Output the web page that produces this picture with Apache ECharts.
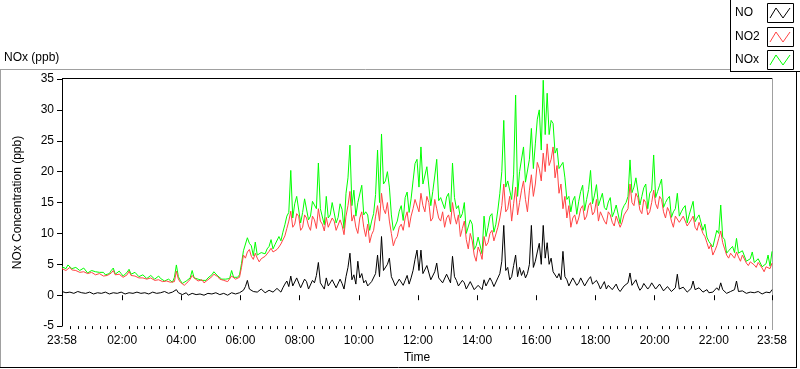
<!DOCTYPE html>
<html><head><meta charset="utf-8">
<script src="https://cdn.jsdelivr.net/npm/echarts@6/dist/echarts.min.js"></script>
<style>html,body{margin:0;padding:0;background:#fff}#c{width:800px;height:369px}</style>
</head><body><div id="c"></div>
<script>
// ---- data (sampled every 4 minutes, starting 23:58) ----
const sampleStepMin = 4;
const seriesNames = ['NO', 'NO2', 'NOx'];
const xTickMinutes = [0, 122, 242, 362, 482, 602, 722, 842, 962, 1082, 1202, 1322, 1440];
const xTickLabels = ['23:58','02:00','04:00','06:00','08:00','10:00','12:00','14:00','16:00','18:00','20:00','22:00','23:58'];
const yMin = -5, yMax = 35, yStep = 5;

const noValues = [
0.6,0.3,0.4,0.7,0.5,0.2,0.3,0.5,0.6,0.3,0.4,0.6,0.3,0.1,0.5,0.3,0.2,0.5,0.4,0.2,
0.3,0.6,0.5,0.2,0.2,0.4,0.4,0.1,0.3,0.5,0.5,0.2,0.2,0.4,0.4,0.2,0.3,0.6,0.5,0.2,
0.3,0.5,0.4,0.1,0.2,0.4,0.5,0.2,0.3,0.6,0.4,0.2,0.6,0.3,0.3,0.5,0.5,0.7,0.9,0.4,
0.4,0.1,0.2,0.4,0.0,0.2,0.3,0.0,0.1,0.3,0.2,-0.1,0.0,0.2,0.3,0.1,0.2,0.4,0.4,0.1,
0.1,0.3,0.3,0.0,0.0,0.2,0.4,0.1,0.2,0.5,0.4,0.6,0.8,1.4,2.4,1.0,1.2,0.6,0.9,0.5,
0.6,1.0,0.8,0.4,0.5,0.8,0.9,0.5,0.7,1.1,0.8,0.5,1.2,1.8,2.3,1.4,3.1,1.5,1.8,2.8,
3.0,1.2,1.5,2.6,2.2,1.0,1.2,2.4,2.0,3.2,5.3,2.0,2.1,1.0,2.8,1.5,1.6,2.5,2.2,1.2,
1.5,2.6,1.9,1.0,3.0,4.5,6.8,2.5,3.3,1.8,5.5,2.8,3.5,2.0,2.4,1.5,1.4,2.2,2.1,3.5,
6.5,3.0,9.5,4.0,4.2,5.0,6.0,3.0,2.3,1.5,1.6,2.6,2.5,1.6,2.4,3.2,1.8,2.8,4.0,5.8,
7.3,4.0,7.3,3.5,3.5,4.8,4.5,2.5,2.6,3.8,5.2,2.8,3.0,2.0,2.2,3.4,3.1,2.0,6.3,3.0,
2.4,1.5,1.6,2.4,2.0,1.0,1.2,2.2,2.0,0.9,0.8,1.6,1.5,0.9,2.5,1.5,1.8,2.8,2.2,1.4,
1.6,2.8,3.5,5.5,11.3,4.0,4.5,2.5,3.0,4.8,6.5,3.0,4.5,3.2,4.0,2.8,3.5,5.0,11.3,4.5,
5.5,7.0,8.4,5.0,11.3,6.0,8.5,5.0,6.0,3.8,4.0,2.8,3.5,2.5,7.1,3.0,2.5,1.5,1.8,2.8,
2.8,1.6,2.0,2.8,2.5,1.5,1.8,2.6,3.0,1.8,1.5,2.4,1.8,1.0,1.6,2.2,1.0,1.6,1.8,0.9,
1.2,1.8,1.0,0.6,0.8,1.5,1.3,2.0,3.6,1.6,1.8,2.5,1.5,0.8,1.2,1.9,2.2,1.0,1.4,2.0,
2.0,1.0,1.2,1.8,1.5,0.7,0.9,1.4,1.3,0.6,0.8,1.2,3.4,1.0,0.7,1.3,1.0,0.5,0.6,1.1,
2.3,0.9,0.8,1.2,1.0,0.5,0.6,0.9,0.4,0.7,0.5,0.3,1.2,0.8,2.0,0.9,0.6,0.3,0.3,0.6,
0.5,0.9,2.3,0.6,0.4,0.7,0.6,0.3,0.3,0.5,0.8,0.4,0.4,0.6,0.5,0.2,0.3,0.5,0.6,0.4,
0.9];

const no2Values = [
4.3,4.6,4.0,4.2,4.5,4.1,3.8,4.0,4.2,3.7,3.6,3.8,3.9,3.5,3.4,3.7,3.6,3.3,3.2,3.5,
3.4,3.1,3.0,3.2,3.3,3.6,4.0,3.3,3.1,3.4,3.3,2.9,3.0,3.3,3.9,3.2,2.9,3.1,3.2,2.8,
2.6,2.8,2.9,2.6,2.5,2.8,2.7,2.4,2.2,2.5,2.5,2.2,2.0,2.3,2.4,2.1,1.8,2.2,3.9,2.6,
2.1,1.8,1.6,1.9,2.2,2.6,3.2,2.8,2.6,2.3,2.3,2.5,2.0,2.2,2.5,2.8,3.0,3.4,3.6,3.0,
2.6,2.3,2.4,2.6,2.2,2.5,3.1,2.8,2.6,2.4,2.9,4.5,6.5,6.0,7.0,7.4,6.3,5.8,6.8,6.0,
5.4,5.9,5.8,6.3,6.5,7.1,7.6,7.0,6.9,7.4,7.8,8.3,8.5,9.6,10.8,12.0,13.6,11.0,11.5,13.2,
12.8,10.5,11.0,13.0,12.5,11.2,10.5,12.8,12.2,10.8,14.0,12.0,11.5,10.4,12.6,11.0,10.8,12.5,12.0,10.5,
10.2,12.2,11.3,9.8,12.8,14.5,16.8,12.0,13.0,11.0,10.0,12.5,13.5,11.0,9.5,11.5,8.5,9.8,10.5,12.8,
14.5,12.0,16.5,14.0,13.2,15.0,12.0,10.0,8.0,9.0,9.5,11.0,11.5,10.5,12.5,13.5,11.0,12.8,14.0,15.5,
15.2,13.5,16.5,14.5,13.5,16.0,15.0,12.0,12.5,15.5,14.0,12.5,12.0,13.5,11.0,12.5,13.0,11.5,15.0,12.8,
11.5,13.0,9.5,10.8,12.0,9.0,7.5,10.0,8.8,6.5,5.5,7.8,7.0,5.8,9.5,8.0,8.5,10.0,10.5,8.8,
9.0,11.0,12.5,14.5,18.0,13.5,14.0,16.0,12.0,14.8,17.5,13.0,15.0,17.0,18.5,15.5,13.5,17.0,19.5,16.0,
18.0,21.5,20.5,18.5,23.0,20.0,24.5,21.0,22.0,24.0,19.0,21.0,16.5,18.0,14.0,16.0,12.5,14.5,11.0,12.5,
13.0,11.5,12.5,14.0,14.5,12.2,12.8,14.5,15.0,13.0,13.5,15.5,12.0,13.5,13.8,12.0,11.5,13.5,13.0,11.8,
11.2,12.8,12.5,11.0,11.8,13.0,12.8,14.0,18.0,15.0,14.5,16.5,15.8,13.8,13.2,15.5,15.0,13.0,13.5,15.0,
17.0,14.8,14.0,16.0,15.5,13.5,12.5,14.2,13.5,12.0,11.0,12.8,13.0,11.8,11.5,12.8,12.5,11.2,11.0,12.2,
12.8,11.0,10.5,11.8,11.5,10.0,9.5,8.5,7.5,8.2,6.5,7.2,8.0,9.2,10.4,8.5,7.5,6.5,6.0,6.8,
6.8,6.0,7.0,6.2,5.5,6.5,6.2,5.2,4.8,5.4,5.6,4.9,4.5,5.3,5.2,4.4,3.8,4.6,4.9,4.3,
5.2];

const noxValues = [
4.6,4.9,4.3,4.9,5.0,4.3,4.1,4.5,4.6,4.0,3.9,4.4,4.1,3.6,3.7,4.0,3.8,3.8,3.5,3.7,
3.6,3.7,3.3,3.4,3.5,4.0,4.4,3.4,3.4,3.9,3.5,3.1,3.2,3.7,4.2,3.4,3.2,3.7,3.4,3.0,
2.9,3.3,3.1,2.7,2.8,3.2,2.9,2.6,2.5,3.1,2.7,2.4,2.3,2.6,2.6,2.6,2.1,2.9,4.9,3.0,
2.4,1.9,1.9,2.3,2.5,2.8,4.0,2.8,2.9,2.6,2.5,2.4,2.3,2.4,2.8,2.9,3.3,3.8,4.0,3.1,
2.9,2.6,2.6,2.6,2.5,2.7,4.0,2.9,2.9,2.9,3.3,5.1,7.2,7.4,9.3,8.4,8.0,6.4,8.6,6.5,
6.5,6.9,7.2,6.7,7.5,7.9,9.0,7.5,8.2,8.5,9.5,8.8,10.2,11.4,12.8,13.4,20.2,12.5,14.8,16.0,
16.0,11.7,13.4,15.6,15.5,12.2,12.8,15.2,15.0,14.0,21.4,14.0,14.2,11.4,16.0,12.5,13.0,15.0,14.8,11.7,
12.6,14.8,13.9,10.8,16.5,19.0,24.3,14.5,17.0,12.8,15.0,15.3,17.8,13.0,13.5,13.0,10.5,12.0,13.2,16.3,
23.5,15.0,26.1,18.0,18.5,20.0,17.5,13.0,10.5,10.5,12.0,13.6,14.5,12.1,15.8,16.7,13.4,15.6,18.5,21.3,
22.0,17.5,24.0,18.0,18.0,20.8,20.5,14.5,16.8,19.3,22.0,15.3,15.8,15.5,14.0,15.9,16.5,13.5,21.4,15.8,
14.0,14.5,12.5,13.2,15.0,10.0,9.8,12.2,11.5,7.4,8.0,9.4,9.5,6.7,12.8,9.5,11.0,12.8,13.2,10.2,
11.5,13.8,16.5,20.0,28.3,17.5,18.5,18.5,15.5,19.6,32.4,16.0,20.0,20.2,24.0,18.3,18.0,22.0,27.0,20.5,
24.5,28.5,30.0,23.5,34.8,26.0,32.7,26.0,28.3,27.8,23.0,23.8,20.5,20.5,21.5,19.0,15.5,16.0,13.5,15.3,
16.0,13.1,15.2,16.8,17.8,13.7,15.5,17.1,20.2,14.8,16.2,17.9,14.5,14.5,16.5,14.2,13.8,15.1,15.8,12.7,
13.5,14.6,14.8,11.6,13.8,14.5,15.0,16.0,21.9,16.6,17.5,19.0,18.8,14.6,16.0,17.4,18.0,14.0,16.5,17.0,
22.7,15.8,16.8,17.8,18.8,14.2,15.0,15.6,16.0,12.6,13.5,14.0,16.5,12.8,13.5,14.1,14.5,11.7,13.0,13.3,
15.2,11.9,12.5,13.0,13.0,10.5,11.5,9.4,8.7,8.9,7.8,7.5,10.5,10.0,14.6,9.4,9.0,6.8,7.2,7.4,
7.9,6.9,9.2,6.8,6.6,7.2,7.3,5.5,5.8,5.9,7.0,5.3,5.6,5.9,6.2,4.6,4.9,5.1,6.5,4.7,
7.1];

// ---- build chart ----
const toPairs = arr => arr.map((v, i) => [i * sampleStepMin, v]);
const majorSet = new Set(xTickMinutes);
const minorTickMinutes = [];
for (let m = 2 + 15; m < 1440; m += 15) { if (!majorSet.has(m)) minorTickMinutes.push(m); }
const labelMap = {}; xTickMinutes.forEach((m, i) => labelMap[m] = xTickLabels[i]);

const FONT = 'Liberation Sans, Arial, sans-serif';
const txt = { color: '#000', fontFamily: FONT, fontSize: 12 };
const colors = { NO: '#000000', NO2: '#ff4444', NOx: '#00ff00' };

const chart = echarts.init(document.getElementById('c'), null, { renderer: 'canvas' });

const legendRows = [
  { name: seriesNames[0], y: 3 },
  { name: seriesNames[1], y: 27 },
  { name: seriesNames[2], y: 50 }
];
const graphics = [
  { type: 'line', shape: { x1: 0, y1: 69.5, x2: 731, y2: 69.5 }, style: { stroke: '#a0a0a0', lineWidth: 1 }, silent: true },
  { type: 'line', shape: { x1: 0.5, y1: 69, x2: 0.5, y2: 368 }, style: { stroke: '#a0a0a0', lineWidth: 1 }, silent: true },
  { type: 'line', shape: { x1: 0, y1: 367.5, x2: 797, y2: 367.5 }, style: { stroke: '#000', lineWidth: 1 }, silent: true },
  { type: 'line', shape: { x1: 796.5, y1: 72, x2: 796.5, y2: 368 }, style: { stroke: '#000', lineWidth: 1 }, silent: true },
  { type: 'line', shape: { x1: 62, y1: 78.5, x2: 772, y2: 78.5 }, style: { stroke: '#000', lineWidth: 1 }, silent: true },
  { type: 'line', shape: { x1: 772.5, y1: 78, x2: 772.5, y2: 330 }, style: { stroke: '#a0a0a0', lineWidth: 1 }, silent: true },
  { type: 'text', x: 4, y: 58, style: { text: 'NOx (ppb)', fill: '#000', font: '12px ' + FONT, textVerticalAlign: 'middle', verticalAlign: 'middle' } },
  { type: 'line', shape: { x1: 730.5, y1: 0, x2: 730.5, y2: 72 }, style: { stroke: '#000', lineWidth: 1 }, silent: true },
  { type: 'line', shape: { x1: 730, y1: 71.5, x2: 800, y2: 71.5 }, style: { stroke: '#000', lineWidth: 1 }, silent: true }
];
legendRows.forEach(r => {
  graphics.push({ type: 'text', x: 735, y: r.y + 10, style: { text: r.name, fill: '#000', font: '12px ' + FONT, textVerticalAlign: 'middle', verticalAlign: 'middle' } });
  graphics.push({ type: 'rect', shape: { x: 767.5, y: r.y + 0.5, width: 26, height: 19 }, style: { fill: '#fff', stroke: '#000', lineWidth: 1 } });
  graphics.push({ type: 'polyline', shape: { points: [[770, r.y + 15], [776, r.y + 5], [783, r.y + 15], [790, r.y + 5]] }, style: { stroke: colors[r.name], lineWidth: 1, fill: null } });
});

const option = {
  animation: false,
  backgroundColor: '#fff',
  grid: { left: 62, right: 28, top: 79, bottom: 39, containLabel: false },
  xAxis: [{
    type: 'value', min: 0, max: 1440,
    name: 'Time', nameLocation: 'middle', nameGap: 24, nameTextStyle: txt,
    axisLine: { show: false },
    axisTick: { show: true, length: 5, inside: false, customValues: xTickMinutes, lineStyle: { color: '#000' } },
    axisLabel: { show: true, customValues: xTickMinutes, formatter: v => labelMap[v] || '', margin: 9, ...txt },
    splitLine: { show: false }
  }, {
    type: 'value', min: 0, max: 1440, position: 'bottom', gridIndex: 0,
    axisLine: { show: false },
    axisTick: { show: true, length: 3, customValues: minorTickMinutes, lineStyle: { color: '#000' } },
    axisLabel: { show: false },
    splitLine: { show: false }
  }],
  yAxis: {
    type: 'value', min: yMin, max: yMax, interval: yStep,
    name: 'NOx Concentration (ppb)', nameLocation: 'middle', nameGap: 38, nameRotate: 90, nameTextStyle: txt,
    axisLine: { show: true, lineStyle: { color: '#000', width: 1 } },
    axisTick: { show: true, length: 5, lineStyle: { color: '#000' } },
    axisLabel: { margin: 8, ...txt },
    splitLine: { show: false }
  },
  series: [
    { name: seriesNames[0], type: 'line', data: toPairs(noValues), symbol: 'none', z: 4, lineStyle: { color: colors.NO, width: 1 }, itemStyle: { color: colors.NO } },
    { name: seriesNames[1], type: 'line', data: toPairs(no2Values), symbol: 'none', z: 3, lineStyle: { color: colors.NO2, width: 1 }, itemStyle: { color: colors.NO2 } },
    { name: seriesNames[2], type: 'line', data: toPairs(noxValues), symbol: 'none', z: 2, lineStyle: { color: colors.NOx, width: 1 }, itemStyle: { color: colors.NOx } }
  ],
  graphic: graphics
};
chart.setOption(option);
</script>
</body></html>
